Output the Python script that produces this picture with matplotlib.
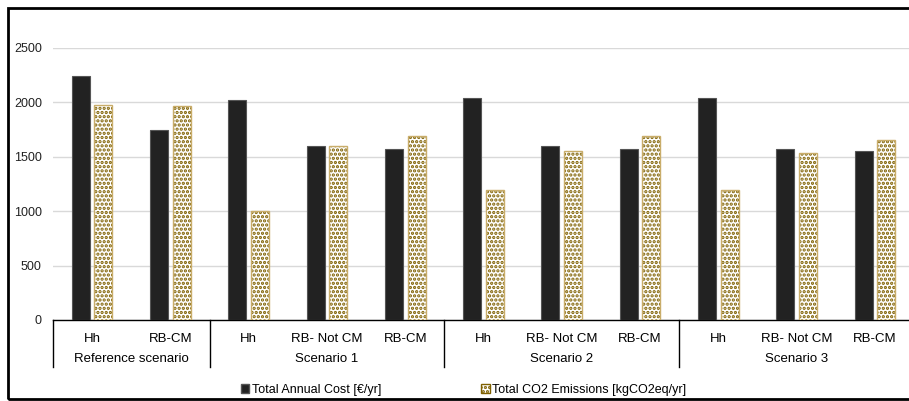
import matplotlib.pyplot as plt
import numpy as np
from matplotlib.patches import Rectangle, Patch
from matplotlib.transforms import blended_transform_factory

plt.rcParams['font.family'] = ['Liberation Sans', 'DejaVu Sans']
plt.rcParams['hatch.linewidth'] = 1.6

# data
categories = ['Hh', 'RB-CM', 'Hh', 'RB- Not CM', 'RB-CM', 'Hh', 'RB- Not CM', 'RB-CM',
              'Hh', 'RB- Not CM', 'RB-CM']
groups = ['Reference scenario', 'Scenario 1', 'Scenario 2', 'Scenario 3']
group_sizes = [2, 3, 3, 3]
annual_cost = [2240, 1750, 2020, 1600, 1575, 2045, 1600, 1575, 2045, 1575, 1550]
co2_emissions = [1975, 1965, 1000, 1595, 1695, 1195, 1555, 1690, 1195, 1535, 1655]
series_names = ['Total Annual Cost [€/yr]', 'Total CO2 Emissions [kgCO2eq/yr]']

W, H = 909, 401
fig = plt.figure(figsize=(W / 100, H / 100), dpi=100)
ax = fig.add_axes([53 / W, (H - 320) / H, (914 - 53) / W, 272 / H])

x = np.arange(len(categories))
bw = 0.23
off = 0.145
dot_col = '#7f6000'
edge_col = '#c9ad6a'

ax.bar(x - off, annual_cost, bw, color='#222222', edgecolor='#555555', linewidth=0.8, zorder=3)
# hatch drawn first (hatch takes the edge colour), outline on top
ax.bar(x + off, co2_emissions, bw, color='white', edgecolor=dot_col, hatch='....',
       linewidth=0, zorder=3)
ax.bar(x + off, co2_emissions, bw, fill=False, edgecolor=edge_col, linewidth=1.0, zorder=4)

ax.set_xlim(-0.5, len(categories) - 0.5)
ax.set_ylim(0, 2500)
ax.set_yticks(np.arange(0, 2501, 500))
ax.yaxis.grid(True, color='#d9d9d9', linewidth=1.0)
ax.set_axisbelow(True)
for s in ['left', 'right', 'top']:
    ax.spines[s].set_visible(False)
ax.spines['bottom'].set_color('black')
ax.spines['bottom'].set_linewidth(1.0)
ax.tick_params(axis='y', length=0, labelsize=9, pad=8, labelcolor='#222222')
ax.set_xticks(x)
ax.set_xticklabels(categories, fontsize=9.5)
ax.tick_params(axis='x', length=0, pad=9)

# group labels and separators
tr = blended_transform_factory(ax.transData, ax.transAxes)
start = 0
bounds = [-0.5]
for g, n in zip(groups, group_sizes):
    ax.text(start + (n - 1) / 2, -0.145, g, transform=tr, ha='center', va='center',
            fontsize=9.5)
    start += n
    bounds.append(start - 0.5)
for b in bounds:
    ax.plot([b, b], [0, -0.173], transform=tr, color='black', linewidth=1.0, clip_on=False)

handles = [Patch(facecolor='#222222', edgecolor='#555555'),
           Patch(facecolor='white', edgecolor=dot_col, hatch='....')]
fig.legend(handles, series_names, loc='center', bbox_to_anchor=(0.51, 0.027), ncol=2,
           frameon=False, fontsize=9, handlelength=0.7, handleheight=0.7,
           handletextpad=0.2, columnspacing=8)

# outer frame
fig.patches.append(Rectangle((8 / W, 2 / H), 1.0, (H - 10) / H, transform=fig.transFigure,
                             fill=False, edgecolor='black', linewidth=2))

fig.savefig('out.png', dpi=100)
